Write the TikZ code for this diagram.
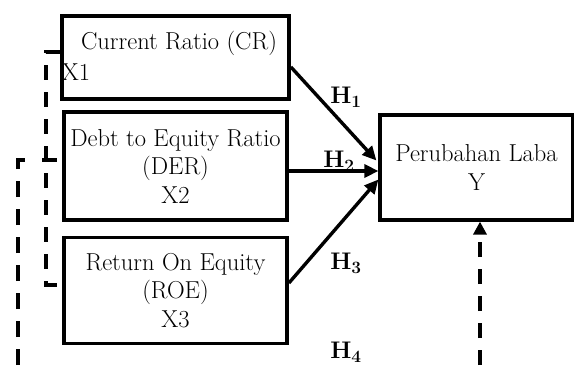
\documentclass[tikz,border=0pt]{standalone}
\usepackage{tikz}
\usetikzlibrary{arrows.meta,positioning,calc}

\tikzset{
  varbox/.style={draw,line width=3.8pt,inner sep=0pt,align=center},
  hlabel/.style={font=\fontsize{24}{28}\selectfont\bfseries,inner sep=1pt},
  hpath/.style={line width=3.4pt,-{Triangle[length=14pt,width=13pt]}},
  ctrlpath/.style={line width=3.6pt,dash pattern=on 15pt off 12pt},
}

\begin{document}
\begin{tikzpicture}[x=1pt,y=-1pt,font=\fontsize{24.5}{28.5}\selectfont]
  \useasboundingbox (0,0) rectangle (574,365);
  % boxes
  \node[varbox,minimum width=227pt,minimum height=83pt] (cr) at (175.5,57.5) {};
  \node[varbox,minimum width=223pt,minimum height=108pt] (der) at (175.5,166)
    {Debt to Equity Ratio\\(DER)\\X2};
  \node[varbox,minimum width=223pt,minimum height=106pt] (roe) at (175.5,290.5)
    {Return On Equity\\(ROE)\\X3};
  \node[varbox,line width=3.2pt,minimum width=193pt,minimum height=105pt] (lab) at (476.5,167.5)
    {Perubahan Laba\\Y};
  \node (crtext) at (179,43) {Current Ratio (CR)};
  \node[anchor=west,inner sep=0pt] (xone) at ([xshift=1.5pt]cr.west |- 0,72) {X1};
  % arrows
  \draw[hpath] ([yshift=-9.5pt]cr.east) -- ([yshift=7pt,xshift=-2pt]lab.west);
  \draw[hpath] ([yshift=-5pt]der.east) -- ([yshift=-3.5pt]lab.west);
  \draw[hpath] ([yshift=7.5pt]roe.east) -- ([yshift=-12pt]lab.west);
  % control lines
  \coordinate (outerbot) at (18,365);
  \coordinate (labbot) at (480,365);
  \draw[ctrlpath] ([yshift=5.5pt]cr.west) -- ++(-14,0) coordinate (bend)
    |- ([yshift=5.5pt]roe.west);
  \draw[ctrlpath] (bend |- der.west) ++(-4,-6) -- ([yshift=6pt]der.west);
  \draw[ctrlpath,dash pattern=on 16pt off 12pt] (outerbot) |- ([yshift=6pt,xshift=-31pt]der.west);
  \draw[ctrlpath,-{Triangle[length=13pt,width=13pt]}] (labbot) -- (labbot |- lab.south);
  % labels
  \node[hlabel] (hone) at (346,97) {H$_{\mathbf{1}}$};
  \node[hlabel] (htwo) at (339,161) {H$_{\mathbf{2}}$};
  \node[hlabel] (hthree) at (346,263) {H$_{\mathbf{3}}$};
  \node[hlabel] (hfour) at (346,352) {H$_{\mathbf{4}}$};
\end{tikzpicture}
\end{document}
